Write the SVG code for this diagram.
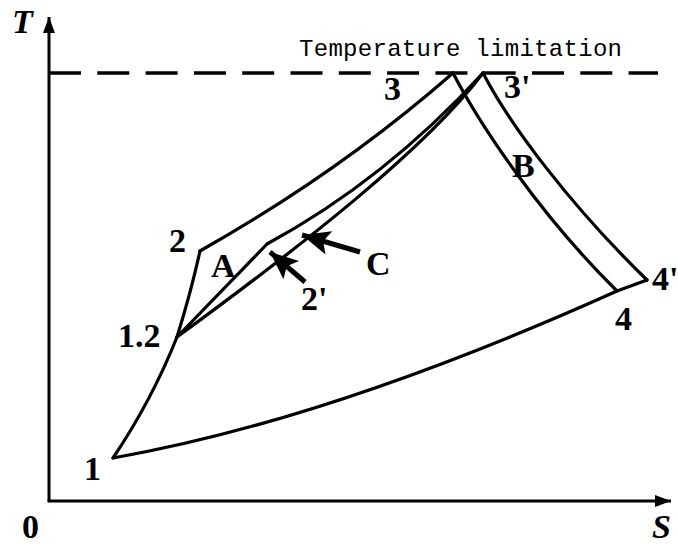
<svg xmlns="http://www.w3.org/2000/svg" width="678" height="547" viewBox="0 0 678 547">
<defs>
<style>
.crv{fill:none;stroke:#000;stroke-width:3.2;stroke-linejoin:miter;stroke-linecap:round}
.ax{fill:none;stroke:#000;stroke-width:3}
.lbl{font-family:"Liberation Serif","Times New Roman",serif;font-weight:bold;font-size:34px;fill:#000}
.it{font-style:italic}
.arr{fill:none;stroke:#000;stroke-width:5}
</style>
<marker id="axh" markerUnits="userSpaceOnUse" markerWidth="20" markerHeight="16" refX="16" refY="6" orient="auto" viewBox="0 0 20 16">
<path d="M0,0 L16,6 L0,12 Z" fill="#000"/>
</marker>
<marker id="ah" markerUnits="userSpaceOnUse" markerWidth="34" markerHeight="30" refX="30" refY="13" orient="auto" viewBox="0 0 34 30">
<path d="M30,13 L2,1 L8,13 L2,25 Z" fill="#000"/>
</marker>
</defs>
<g id="axes">
<path class="ax" d="M49,501 L49,17" marker-end="url(#axh)"/>
<path class="ax" d="M47.5,501 L671,501" marker-end="url(#axh)"/>
<text class="lbl it" x="12" y="33">T</text>
<text class="lbl" x="22" y="538">0</text>
<text class="lbl it" x="652" y="538" font-size="30">S</text>
</g>
<g id="limit">
<line x1="49" y1="73" x2="658" y2="73" stroke="#000" stroke-width="3.5" stroke-dasharray="32 16.3"/>
<text x="299" y="56" font-family="Liberation Mono,monospace" font-size="24" textLength="323">Temperature limitation</text>
</g>
<g id="connectors">
<path id="c1-12" class="crv" d="M113,458 Q152,400 177,337"/>
<path id="c12-2" class="crv" d="M177,337 Q191,292 200,251"/>
<path id="c2-3" class="crv" d="M200,251 Q340,172 453,73"/>
<path id="c3-4" class="crv" d="M453,73 C480,125 540,215 617,291"/>
<path id="c4-1" class="crv" d="M617,291 Q330,420 113,458"/>
<path id="c12-2p" class="crv" d="M177,337 L267,244"/>
<path id="c2p-3p" class="crv" d="M267,244 Q385,180 483,73"/>
<path id="c12-3p" class="crv" d="M177,337 C300,247 425,150 483,73"/>
<path id="c3p-4p" class="crv" d="M483,73 C510,125 570,205 647,280"/>
<path id="c4p-4" class="crv" d="M647,280 L617,291"/>
<path id="arrowC" class="arr" d="M360,252 L302,235" marker-end="url(#ah)"/>
<path id="arrow2p" class="arr" d="M305,282 L270,252" marker-end="url(#ah)"/>
</g>
<g id="labels">
<text class="lbl" x="84" y="480">1</text>
<text class="lbl" x="118" y="347">1.2</text>
<text class="lbl" x="169" y="252">2</text>
<text class="lbl" x="211" y="277">A</text>
<text class="lbl" x="301" y="310">2'</text>
<text class="lbl" x="366" y="275">C</text>
<text class="lbl" x="384" y="100">3</text>
<text class="lbl" x="504" y="98">3'</text>
<text class="lbl" x="512" y="177">B</text>
<text class="lbl" x="615" y="330">4</text>
<text class="lbl" x="652" y="290" font-size="32">4'</text>
</g>
</svg>
